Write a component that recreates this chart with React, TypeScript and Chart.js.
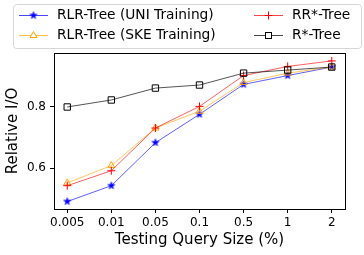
import React, { useEffect, useRef } from 'react';
import { Chart, registerables } from 'chart.js';

Chart.register(...registerables);

const categories = ['0.005', '0.01', '0.05', '0.1', '0.5', '1', '2'];
const uniValues = [0.49, 0.542, 0.683, 0.776, 0.874, 0.903, 0.931];
const skeValues = [0.551, 0.608, 0.731, 0.786, 0.88, 0.911, 0.931];
const rrStarValues = [0.542, 0.591, 0.731, 0.802, 0.903, 0.933, 0.951];
const rStarValues = [0.8, 0.823, 0.862, 0.872, 0.911, 0.921, 0.931];
const yTicks = [0.6, 0.8];
const seriesLabels = ['RLR-Tree (UNI Training)', 'RLR-Tree (SKE Training)', 'RR*-Tree', 'R*-Tree'];

const FONT = "'DejaVu Sans', sans-serif";

function makeStar(color: string, R: number): HTMLCanvasElement {
  const size = Math.ceil(R * 2) + 2;
  const c = document.createElement('canvas');
  c.width = size;
  c.height = size;
  const ctx = c.getContext('2d')!;
  const cx = size / 2;
  const cy = size / 2;
  const r = R * 0.4;
  ctx.beginPath();
  for (let i = 0; i < 10; i++) {
    const rad = (Math.PI / 5) * i;
    const rr = i % 2 === 0 ? R : r;
    const x = cx + Math.sin(rad) * rr;
    const y = cy - Math.cos(rad) * rr;
    if (i === 0) ctx.moveTo(x, y);
    else ctx.lineTo(x, y);
  }
  ctx.closePath();
  ctx.fillStyle = color;
  ctx.fill();
  ctx.strokeStyle = color;
  ctx.lineWidth = 0.6;
  ctx.stroke();
  return c;
}

export default function App() {
  const ref = useRef<HTMLCanvasElement>(null);

  useEffect(() => {
    document.body.style.margin = '0';
    const star = makeStar('blue', 3.8);
    const toPts = (arr: number[]) => arr.map((v, i) => ({ x: i, y: v }));

    const frame = {
      id: 'frame',
      afterDatasetsDraw(chart: any) {
        const { ctx, chartArea: a } = chart;
        ctx.save();
        ctx.strokeStyle = '#000';
        ctx.lineWidth = 1;
        ctx.strokeRect(Math.round(a.left) + 0.5, Math.round(a.top) + 0.5, Math.round(a.right - a.left), Math.round(a.bottom - a.top));
        ctx.restore();
      },
    };

    const legend = {
      id: 'customLegend',
      afterDraw(chart: any) {
        const ctx = chart.ctx as CanvasRenderingContext2D;
        ctx.save();
        const bx = 13.5, by = 4.5, bw = 348, bh = 44, rad = 3;
        ctx.beginPath();
        ctx.moveTo(bx + rad, by);
        ctx.lineTo(bx + bw - rad, by);
        ctx.arcTo(bx + bw, by, bx + bw, by + rad, rad);
        ctx.lineTo(bx + bw, by + bh - rad);
        ctx.arcTo(bx + bw, by + bh, bx + bw - rad, by + bh, rad);
        ctx.lineTo(bx + rad, by + bh);
        ctx.arcTo(bx, by + bh, bx, by + bh - rad, rad);
        ctx.lineTo(bx, by + rad);
        ctx.arcTo(bx, by, bx + rad, by, rad);
        ctx.closePath();
        ctx.fillStyle = 'rgba(255,255,255,0.8)';
        ctx.fill();
        ctx.strokeStyle = '#d6d6d6';
        ctx.lineWidth = 1;
        ctx.stroke();

        const items = [
          { label: seriesLabels[0], x: 19, y: 15, color: 'blue', marker: 'star' },
          { label: seriesLabels[1], x: 19, y: 35, color: 'orange', marker: 'triangle' },
          { label: seriesLabels[2], x: 254, y: 15, color: 'red', marker: 'cross' },
          { label: seriesLabels[3], x: 254, y: 35, color: 'black', marker: 'rect' },
        ];
        ctx.font = `13.75px ${FONT}`;
        ctx.textBaseline = 'middle';
        ctx.textAlign = 'left';
        for (const it of items) {
          const cx = it.x + 14.5;
          ctx.strokeStyle = it.color;
          ctx.globalAlpha = 0.8;
          ctx.lineWidth = 0.9;
          ctx.beginPath();
          ctx.moveTo(it.x, it.y + 0.5);
          ctx.lineTo(it.x + 29, it.y + 0.5);
          ctx.stroke();
          ctx.globalAlpha = 1;
          ctx.lineWidth = 1;
          ctx.strokeStyle = it.color;
          if (it.marker === 'star') {
            ctx.drawImage(star, cx - star.width / 2, it.y + 0.5 - star.height / 2);
          } else if (it.marker === 'triangle') {
            const r = 4;
            ctx.beginPath();
            for (let k = 0; k < 3; k++) {
              const a = (k * 2 * Math.PI) / 3;
              const px = cx + Math.sin(a) * r;
              const py = it.y + 0.5 - Math.cos(a) * r;
              if (k === 0) ctx.moveTo(px, py);
              else ctx.lineTo(px, py);
            }
            ctx.closePath();
            ctx.fillStyle = '#fff';
            ctx.fill();
            ctx.stroke();
          } else if (it.marker === 'cross') {
            ctx.beginPath();
            ctx.moveTo(cx - 4, it.y + 0.5);
            ctx.lineTo(cx + 4, it.y + 0.5);
            ctx.moveTo(cx, it.y - 3.5);
            ctx.lineTo(cx, it.y + 4.5);
            ctx.stroke();
          } else {
            ctx.fillStyle = '#fff';
            ctx.fillRect(cx - 3, it.y - 2.5, 6, 6);
            ctx.strokeRect(cx - 3, it.y - 2.5, 6, 6);
          }
          ctx.fillStyle = '#000';
          ctx.fillText(it.label, it.x + 38, it.y + 0.5);
        }
        ctx.restore();
      },
    };

    const chart = new Chart(ref.current!, {
      type: 'line',
      data: {
        datasets: [
          {
            label: seriesLabels[0],
            data: toPts(uniValues),
            borderColor: 'rgba(0,0,255,0.7)',
            borderWidth: 0.9,
            pointStyle: star as any,
            pointBorderColor: 'blue',
            pointBackgroundColor: 'blue',
            pointRadius: 4,
            order: 4,
          },
          {
            label: seriesLabels[1],
            data: toPts(skeValues),
            borderColor: 'rgba(255,165,0,0.7)',
            borderWidth: 0.9,
            pointStyle: 'triangle',
            pointBorderColor: 'orange',
            pointBackgroundColor: 'rgba(0,0,0,0)',
            pointBorderWidth: 1,
            pointRadius: 4,
            order: 3,
          },
          {
            label: seriesLabels[2],
            data: toPts(rrStarValues),
            borderColor: 'rgba(255,0,0,0.7)',
            borderWidth: 0.9,
            pointStyle: 'cross',
            pointBorderColor: 'red',
            pointBorderWidth: 1,
            pointRadius: 4,
            order: 2,
          },
          {
            label: seriesLabels[3],
            data: toPts(rStarValues),
            borderColor: 'rgba(0,0,0,0.75)',
            borderWidth: 0.9,
            pointStyle: 'rect',
            pointBorderColor: 'black',
            pointBackgroundColor: 'rgba(0,0,0,0)',
            pointBorderWidth: 1,
            pointRadius: 4.5,
            order: 1,
          },
        ],
      },
      options: {
        responsive: false,
        animation: false,
        events: [],
        layout: { padding: { top: 53, right: 19, left: 0, bottom: 0 } },
        plugins: {
          legend: { display: false },
          tooltip: { enabled: false },
        },
        scales: {
          x: {
            type: 'linear',
            min: -0.3,
            max: 6.3,
            afterFit: (s: any) => {
              s.height = 46;
            },
            afterBuildTicks: (s: any) => {
              s.ticks = categories.map((_, i) => ({ value: i }));
            },
            ticks: {
              autoSkip: false,
              maxRotation: 0,
              padding: 3,
              color: '#000',
              font: { family: FONT, size: 12 },
              callback: (v: any) => categories[Math.round(Number(v))],
            },
            grid: { drawOnChartArea: false, drawTicks: true, tickLength: 4, color: '#000', lineWidth: 1 },
            border: { display: true, color: '#000', width: 1 },
            title: {
              display: true,
              text: 'Testing Query Size (%)',
              color: '#000',
              font: { family: FONT, size: 15 },
              padding: { top: 0, bottom: 6 },
            },
          },
          y: {
            type: 'linear',
            min: 0.4656,
            max: 0.977,
            afterFit: (s: any) => {
              s.width = 54;
            },
            afterBuildTicks: (s: any) => {
              s.ticks = yTicks.map((v) => ({ value: v }));
            },
            ticks: {
              padding: 4,
              color: '#000',
              font: { family: FONT, size: 12 },
              callback: (v: any) => Number(v).toFixed(1),
            },
            grid: { drawOnChartArea: false, drawTicks: true, tickLength: 4, color: '#000', lineWidth: 1 },
            border: { display: true, color: '#000', width: 1 },
            title: {
              display: true,
              text: 'Relative I/O',
              color: '#000',
              font: { family: FONT, size: 15 },
              padding: { top: 4, bottom: 4 },
            },
          },
        },
      },
      plugins: [frame, legend],
    } as any);

    return () => chart.destroy();
  }, []);

  return (
    <div style={{ position: 'fixed', left: 0, top: 0, width: 364, height: 255 }}>
      <canvas ref={ref} width={364} height={255} style={{ display: 'block' }} />
    </div>
  );
}
